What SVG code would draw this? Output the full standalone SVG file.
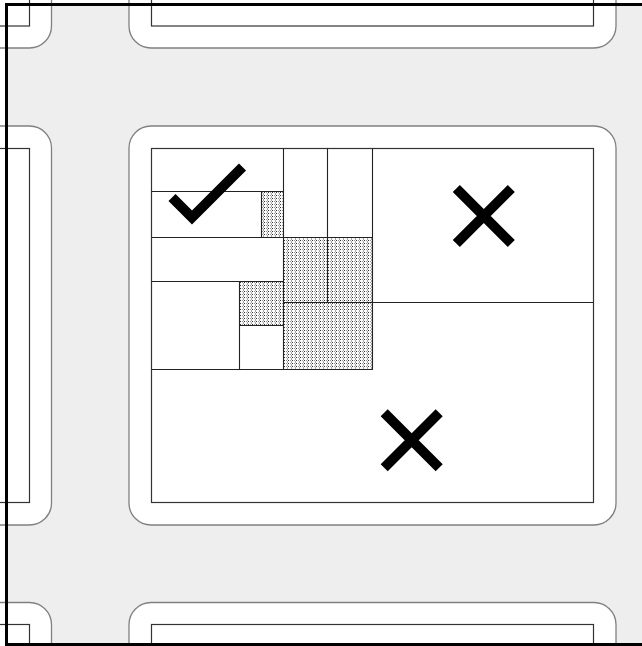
<svg xmlns="http://www.w3.org/2000/svg" width="642" height="646" viewBox="0 0 642 646">
<defs>
<pattern id="stip" width="4" height="3" patternUnits="userSpaceOnUse">
<rect width="4" height="3" fill="#fafafa"/>
<rect x="0" y="0" width="1" height="1" fill="#333"/>
<rect x="2" y="0" width="1" height="1" fill="#999"/>
<rect x="3" y="1.5" width="1" height="1" fill="#555"/>
</pattern>
</defs>
<style>
.blk{fill:#fff;stroke:#808080;stroke-width:1.3}
.inn{fill:#fff;stroke:#333;stroke-width:1.2}
.ln{stroke:#222;stroke-width:1.1;fill:none}
.hat{fill:url(#stip);stroke:#666;stroke-width:1}
.mark{fill:none;stroke:#000;stroke-width:10;stroke-linecap:butt;stroke-linejoin:miter}
</style>
<rect width="642" height="646" fill="#fff"/>
<rect x="6.5" y="4.5" width="700" height="640" fill="#eeeeee"/>

<g id="block-top-left">
<rect class="blk" x="-435.5" y="-351" width="487" height="399" rx="22"/>
<rect class="inn" x="-413.5" y="-329" width="443" height="355"/>
</g>
<g id="block-top">
<rect class="blk" x="129" y="-351" width="487" height="399" rx="22"/>
<rect class="inn" x="151.5" y="-329" width="442" height="355"/>
</g>
<g id="block-left">
<rect class="blk" x="-435.5" y="126" width="487" height="399" rx="22"/>
<rect class="inn" x="-413.5" y="148.5" width="443" height="354"/>
</g>
<g id="block-bottom-left">
<rect class="blk" x="-435.5" y="602.5" width="487" height="399" rx="22"/>
<rect class="inn" x="-413.5" y="624.5" width="443" height="354"/>
</g>
<g id="block-bottom">
<rect class="blk" x="129" y="602.5" width="487" height="399" rx="22"/>
<rect class="inn" x="151.5" y="624.5" width="442" height="354"/>
</g>

<g id="block-center">
<rect class="blk" x="129" y="126" width="487" height="399" rx="22"/>
<rect class="inn" x="151.5" y="148.5" width="442" height="354"/>
<g id="hatched">
<rect class="hat" x="261.5" y="191.5" width="22" height="46"/>
<rect class="hat" x="283.5" y="237.5" width="89" height="132"/>
<rect class="hat" x="239.5" y="281.5" width="44" height="44"/>
</g>
<g id="grid">
<path class="ln" d="M283.5 148.5V369.5M327.5 148.5V302.5M372.5 148.5V369.5M151.5 191.5H283.5M261.5 191.5V237.5M151.5 237.5H372.5M151.5 281.5H283.5M239.5 281.5V369.5M239.5 325.5H283.5M283.5 302.5H593.5M151.5 369.5H372.5"/>
</g>
<g id="check">
<polyline class="mark" points="172,197.5 192,217.5 242.5,167"/>
</g>
<g id="cross-upper">
<path class="mark" d="M456.3 188.5L511.3 243.5M511.3 188.5L456.3 243.5"/>
</g>
<g id="cross-lower">
<path class="mark" d="M384.2 412.8L439.2 467.8M439.2 412.8L384.2 467.8"/>
</g>
</g>

<rect x="6.5" y="4.5" width="700" height="640" fill="none" stroke="#000" stroke-width="3"/>
</svg>
